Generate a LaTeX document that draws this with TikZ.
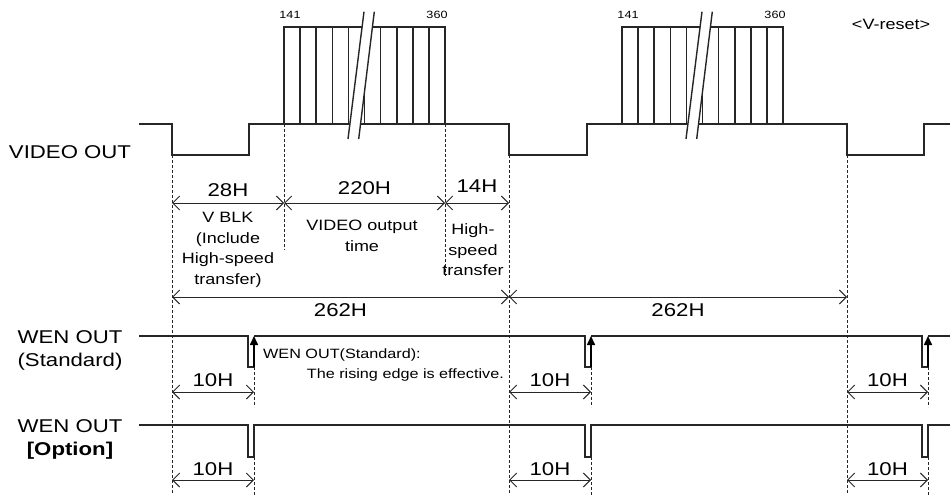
\documentclass[tikz,border=0pt]{standalone}
\usepackage{fontspec}
\setmainfont{Liberation Sans}[FakeStretch=1.2]
\usetikzlibrary{arrows.meta,calc,positioning}
\tikzset{%
	signal/.style   = {draw=black!85, line width=1.6pt, line join=miter}, % waveform
	guide/.style    = {draw=black!85, line width=0.8pt, dash pattern=on 3pt off 2pt}, % timing mark
	dim/.style      = {draw=black!85, line width=0.9pt, {Straight Barb[length=7pt,width=14pt]}-{Straight Barb[length=7pt,width=14pt]}},
	edge/.style     = {draw=black, line width=1.6pt, -{Triangle[length=9pt,width=8pt]}},
	big/.style      = {font=\fontsize{18.5}{23}\selectfont, inner sep=0pt},
	small/.style    = {font=\fontsize{15}{20.5}\selectfont, inner sep=0pt, align=center},
	note/.style     = {font=\fontsize{13.5}{20}\selectfont, inner sep=0pt},
	count/.style    = {font=\fontsize{10.5}{12}\selectfont, inner sep=0pt},
	cut/.style      = {draw=black!85, line width=1.4pt},
}
\begin{document}
\begin{tikzpicture}[x=1pt,y=-1pt]
	\useasboundingbox (0,0) rectangle (950,495);
	
	% time marks and rows
	\foreach \n/\x in {t0/172,t1/284,t2/445,t3/509,t4/847,w1/254,w2/591,w3/928}
		\coordinate (\n) at (\x,0);
	\foreach \n/\y in {r1/203,r2/297,r3/392,r4/480}
		\coordinate (\n) at (0,\y);
	
	% signal names
	\node[big] (vname) at (70,152) {VIDEO OUT};
	\node[big, align=center] (sname) at (70,350) {WEN OUT\\(Standard)};
	\node[big, align=center] (oname) at (70,439) {WEN OUT\\\textbf{[Option]}};
	\node[small] (reset) at (891,24) {<V-reset>};
	
	% VIDEO OUT
	\draw[signal] (139,124) -- (172,124) -- (172,155) -- (249,155) -- (249,124) -- (509,124) -- (509,155) -- (587,155) -- (587,124) -- (847,124) -- (847,155) -- (924,155) -- (924,124) -- (950,124);
	
	% output lines 141..360
	\foreach \s in {0,338}{
	\begin{scope}[shift={(\s,0)}]
	\draw[signal] (284,124) -- (284,27) -- (445,27) -- (445,124);
	\foreach \k in {1,...,9}
		\draw[signal] ({284+16.1*\k},27) -- ++(0,97);
	\fill[white] (364,11.7) -- (374.3,11.7) -- (358.7,139) -- (348,139) -- cycle;
	\draw[cut] (364,11.7) -- (348,139);
	\draw[cut] (374.3,11.7) -- (358.7,139);
	\end{scope}
	}
	\node[count] (n141a) at (290,15) {141};
	\node[count] (n360a) at (437,15) {360};
	\node[count] (n141b) at (628,15) {141};
	\node[count] (n360b) at (775,15) {360};
	
	% WEN OUT (Standard)
	\draw[signal] (139,336) -- (248,336) -- (248,367) -- (254,367);
	\draw[signal] (254,336) -- (585,336) -- (585,367) -- (591,367);
	\draw[signal] (591,336) -- (922,336) -- (922,367) -- (928,367);
	\draw[signal] (928,336) -- (950,336);
	\foreach \w in {w1,w2,w3}
		\draw[edge] ($(\w)+(0,367)$) -- ($(\w)+(0,336)$);
	\node[note, anchor=west] (nt1) at (263,355) {WEN OUT(Standard):};
	\node[note, anchor=east] (nt2) at (504,375) {The rising edge is effective.};
	
	% WEN OUT [Option]
	\draw[signal] (139,425) -- (248,425) -- (248,457) -- (254,457) -- (254,425) -- (585,425) -- (585,457) -- (591,457) -- (591,425) -- (922,425) -- (922,457) -- (928,457) -- (928,425) -- (950,425);
	
	% dashed marks
	\foreach \t in {t0,t3,t4}
		\draw[guide] ($(\t)+(0,155)$) -- ($(\t)+(0,495)$);
	\draw[guide] ($(t1)+(0,124)$) -- ($(t1)+(0,250)$);
	\draw[guide] ($(t2)+(0,124)$) -- ($(t2)+(0,276)$);
	\foreach \w in {w1,w2,w3}{
		\draw[guide] ($(\w)+(0,367)$) -- ($(\w)+(0,407)$);
		\draw[guide] ($(\w)+(0,457)$) -- ($(\w)+(0,495)$);
	}
	
	% periods
	\draw[dim] (t0|-r1) -- node[big, above=6pt] (h28) {28H} (t1|-r1);
	\draw[dim] (t1|-r1) -- node[big, above=8pt] (h220) {220H} (t2|-r1);
	\draw[dim] (t2|-r1) -- node[big, above=10pt] (h14) {14H} (t3|-r1);
	\node[small] (vblk) at (228,250) {V BLK\\(Include\\High-speed\\transfer)};
	\node[small] (vtime) at (362,236) {VIDEO output\\time};
	\node[small] (hst) at (473,250) {High-\\speed\\transfer};
	
	\draw[dim] (t0|-r2) -- node[big, below=6pt] (h262a) {262H} (t3|-r2);
	\draw[dim] (t3|-r2) -- node[big, below=6pt] (h262b) {262H} (t4|-r2);
	
	\draw[dim] (t0|-r3) -- node[big, above=5pt] (s10a) {10H} (w1|-r3);
	\draw[dim] (t3|-r3) -- node[big, above=5pt] (s10b) {10H} (w2|-r3);
	\draw[dim] (t4|-r3) -- node[big, above=5pt] (s10c) {10H} (w3|-r3);
	
	\draw[dim] (t0|-r4) -- node[big, above=4pt] (o10a) {10H} (w1|-r4);
	\draw[dim] (t3|-r4) -- node[big, above=4pt] (o10b) {10H} (w2|-r4);
	\draw[dim] (t4|-r4) -- node[big, above=4pt] (o10c) {10H} (w3|-r4);
	
\end{tikzpicture}
\end{document}
